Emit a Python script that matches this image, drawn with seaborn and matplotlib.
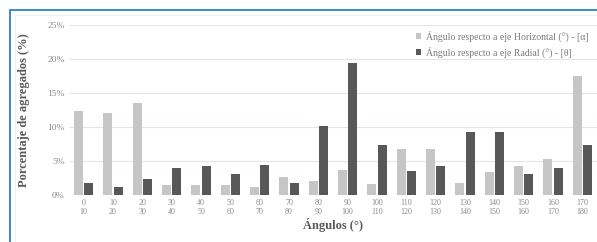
import matplotlib
matplotlib.use("Agg")
import matplotlib.pyplot as plt
from matplotlib.ticker import PercentFormatter
from matplotlib.lines import Line2D
import seaborn as sns
import pandas as pd

# angle bins (two-line tick labels)
bins_lo = [0, 10, 20, 30, 40, 50, 60, 70, 80, 90, 100, 110, 120, 130, 140, 150, 160, 170]
bins_hi = [10, 20, 30, 40, 50, 60, 70, 80, 90, 100, 110, 120, 130, 140, 150, 160, 170, 180]
tick_labels = [f"{a}\n{b}" for a, b in zip(bins_lo, bins_hi)]

# % of aggregates
horizontal = [12.4, 12.0, 13.5, 1.5, 1.5, 1.5, 1.2, 2.7, 2.1, 3.7, 1.6, 6.7, 6.7, 1.7, 3.4, 4.3, 5.3, 17.5]
radial = [1.7, 1.2, 2.4, 3.9, 4.2, 3.1, 4.4, 1.7, 10.2, 19.4, 7.4, 3.6, 4.2, 9.2, 9.2, 3.1, 3.9, 7.4]

lab_h = "Ángulo respecto a eje Horizontal (°) - [α]"
lab_r = "Ángulo respecto a eje Radial (°) - [θ]"

df = pd.DataFrame({
    "bin": tick_labels * 2,
    "pct": horizontal + radial,
    "serie": [lab_h] * len(horizontal) + [lab_r] * len(radial),
})

sns.set_style("white")
plt.rcParams['font.family'] = ['Liberation Serif', 'DejaVu Serif']

fig = plt.figure(figsize=(5.97, 2.42), dpi=100)
ax = fig.add_axes([69 / 597, 1 - 195 / 242, (597 - 69) / 597, (195 - 25) / 242])

sns.barplot(data=df, x="bin", y="pct", hue="serie", ax=ax,
            palette=["#c6c6c6", "#585858"], width=0.72, gap=0.15,
            edgecolor="none", saturation=1)

ax.set_ylim(0, 25)
ax.set_yticks([0, 5, 10, 15, 20, 25])
ax.yaxis.set_major_formatter(PercentFormatter(decimals=0))
ax.grid(axis="y", color="#dde7ee", linewidth=0.8)
ax.set_axisbelow(True)
for s in ax.spines.values():
    s.set_visible(False)
ax.tick_params(axis="x", length=0, labelsize=5.8, colors="#8a8a8a", pad=3)
ax.tick_params(axis="y", length=0, labelsize=6.8, colors="#8a8a8a", pad=3)
ax.set_xlim(-0.5, len(tick_labels) - 0.5)

ax.set_xlabel("Ángulos (°)", fontsize=9, fontweight="bold", color="#595959", labelpad=1)
ax.set_ylabel("Porcentaje de agregados (%)", fontsize=9, fontweight="bold", color="#595959", labelpad=4)
ax.yaxis.set_label_coords(-(69 - 30) / 528, 0.5)

leg = ax.legend(loc="upper right", bbox_to_anchor=(0.995, 1.0), frameon=False,
                fontsize=7, handlelength=0.55, handleheight=0.55, handletextpad=0.5,
                labelspacing=0.45, borderaxespad=0.2)
for t in leg.get_texts():
    t.set_color("#7a7a7a")

# outer frame lines (blue border at top and left)
fig.add_artist(Line2D([10 / 597, 1], [1 - 10 / 242, 1 - 10 / 242], color="#3a8fb7", linewidth=1.4))
fig.add_artist(Line2D([10 / 597, 10 / 597], [0, 1 - 10 / 242], color="#3a8fb7", linewidth=1.4))
fig.add_artist(Line2D([15 / 597, 1], [1 - 15 / 242, 1 - 15 / 242], color="#eef2f4", linewidth=0.8))
fig.add_artist(Line2D([15 / 597, 15 / 597], [0, 1 - 15 / 242], color="#eef2f4", linewidth=0.8))

fig.savefig("out.png", dpi=100)
